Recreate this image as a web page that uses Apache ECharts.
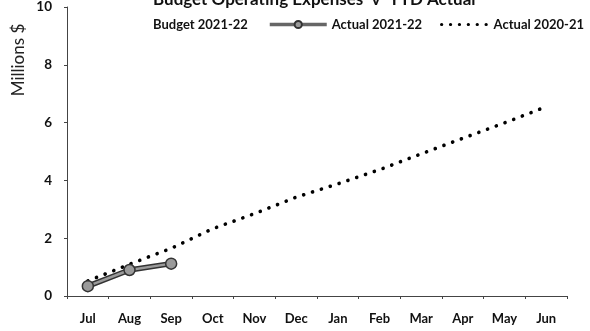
<!DOCTYPE html>
<html>
<head>
<meta charset="utf-8">
<script src="https://cdn.jsdelivr.net/npm/echarts@6/dist/echarts.min.js"></script>
<style>
  html, body { margin: 0; padding: 0; background: #fff; }
  #chart { width: 590px; height: 331px; }
</style>
</head>
<body>
<div id="chart"></div>
<script>
// Fiscal-year months
const months = ['Jul', 'Aug', 'Sep', 'Oct', 'Nov', 'Dec', 'Jan', 'Feb', 'Mar', 'Apr', 'May', 'Jun'];
// Cumulative operating expenses, millions of dollars
const budget2122 = [];
const actual2122 = [0.34, 0.9, 1.12];
const actual2021 = [0.52, 1.1, 1.65, 2.33, 2.85, 3.42, 3.88, 4.37, 4.92, 5.46, 5.99, 6.55];
const yTicks = { min: 0, max: 10, interval: 2 };

const font = 'Lato, "Open Sans", sans-serif';
const legendText = { fontFamily: font, fontSize: 13, fontWeight: 'bold', color: '#111' };
const chart = echarts.init(document.getElementById('chart'));

chart.setOption({
  animation: false,
  backgroundColor: '#fff',
  title: {
    text: 'Budget Operating Expenses  v  YTD Actual',
    left: 153, top: -9, padding: 0,
    textStyle: { fontFamily: font, fontSize: 17, fontWeight: 'bold', color: '#111' }
  },
  legend: [
    {
      left: 148, top: 18, padding: 0, itemWidth: 0, itemHeight: 14,
      textStyle: legendText,
      data: [{ name: 'Budget 2021-22', icon: 'none' }]
    },
    {
      left: 268, top: 18, padding: 0, itemWidth: 57, itemHeight: 9,
      textStyle: legendText,
      data: [{
        name: 'Actual 2021-22',
        lineStyle: { color: '#666', width: 3.5 }
      }]
    },
    {
      left: 440, top: 18, padding: 0, itemWidth: 47, itemHeight: 14,
      textStyle: legendText,
      data: [{
        name: 'Actual 2020-21',
        itemStyle: { opacity: 0 },
        lineStyle: { width: 3.2, type: [0.1, 8.8], cap: 'round' }
      }]
    }
  ],
  grid: { left: 67, right: 23, top: 6, bottom: 35 },
  graphic: [{
    type: 'text',
    x: 19, y: 60,
    rotation: Math.PI / 2,
    style: {
      text: 'Millions $',
      fontFamily: font, fontSize: 17, fill: '#222',
      align: 'center', verticalAlign: 'middle'
    }
  }],
  xAxis: {
    type: 'category',
    data: months,
    boundaryGap: true,
    axisLine: { lineStyle: { color: '#444', width: 1 } },
    axisTick: { show: true, length: 3, lineStyle: { color: '#444' } },
    axisLabel: { fontFamily: font, fontSize: 13, fontWeight: 'bold', color: '#111', margin: 16 }
  },
  yAxis: {
    type: 'value',
    min: yTicks.min, max: yTicks.max, interval: yTicks.interval,
    splitLine: { show: false },
    axisLine: { show: true, lineStyle: { color: '#444', width: 1 } },
    axisTick: { show: true, length: 3, lineStyle: { color: '#444' } },
    axisLabel: { fontFamily: font, fontSize: 13.5, fontWeight: 'bold', color: '#111', margin: 15 }
  },
  series: [
    {
      name: 'Budget 2021-22',
      type: 'line',
      data: budget2122,
      symbol: 'none',
      lineStyle: { color: '#fff', width: 0 }
    },
    {
      // dark outline under the gray line
      name: 'outline',
      type: 'line',
      data: actual2122,
      symbol: 'none',
      silent: true,
      lineStyle: { color: '#333', width: 5.5 },
      z: 3
    },
    {
      name: 'Actual 2021-22',
      type: 'line',
      data: actual2122,
      symbol: 'circle',
      symbolSize: 11,
      itemStyle: { color: '#9a9a9a', borderColor: '#333', borderWidth: 1.5 },
      lineStyle: { color: '#9a9a9a', width: 2.5 },
      z: 4
    },
    {
      name: 'Actual 2020-21',
      type: 'line',
      data: actual2021,
      symbol: 'none',
      itemStyle: { color: '#000' },
      lineStyle: { color: '#000', width: 3.6, type: [0.1, 9.2], cap: 'round' },
      z: 2
    }
  ]
});
</script>
</body>
</html>
